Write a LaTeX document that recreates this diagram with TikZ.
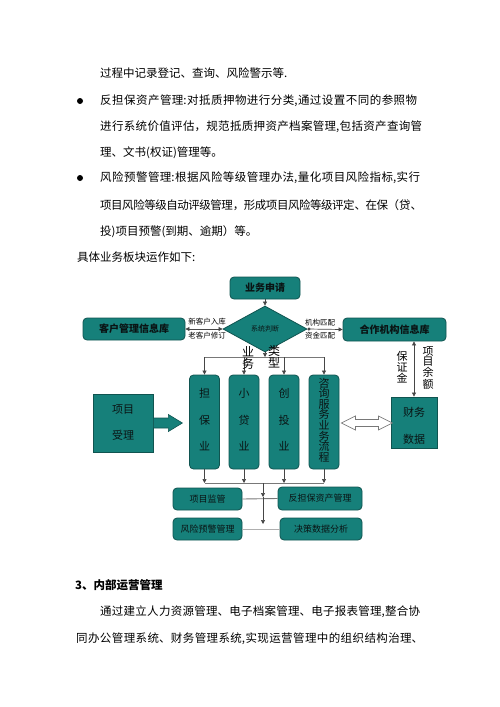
\documentclass[tikz,border=0pt]{standalone}
\usepackage{fontspec}
\setmainfont{Noto Sans CJK SC}
\newfontfamily\boxfont[Color=0A1414]{Noto Sans CJK SC}
\usetikzlibrary{shapes.geometric,arrows.meta,calc}
\XeTeXlinebreaklocale "zh"
\XeTeXlinebreakskip=0pt plus 4pt minus 0.5pt
\definecolor{tealbox}{RGB}{22,128,122}
\definecolor{tealedge}{RGB}{16,84,80}
\definecolor{lineg}{RGB}{70,70,70}
\definecolor{midg}{RGB}{120,120,120}
\definecolor{lightg}{RGB}{175,175,175}
\newcommand{\jline}[2]{\parbox{#1pt}{\parindent=0pt\parfillskip=0pt\leftskip=0pt\rightskip=0pt\relax #2}}
\begin{document}
\begin{tikzpicture}[x=1pt,y=-1pt,
  txt/.style={anchor=west,inner sep=0pt,font=\fontsize{11.5}{11.5}\selectfont},
  bul/.style={circle,fill=black,inner sep=0pt,minimum size=6pt},
  tealshape/.style={draw=tealedge,fill=tealbox,line width=0.8pt,inner sep=0pt},
  rbox/.style={tealshape,rounded corners=4pt},
  sbox/.style={tealshape},
  tbox/.style={tealshape,rounded corners=4pt,minimum width=30pt,minimum height=94pt},
  dia/.style={tealshape,diamond,minimum width=84pt,minimum height=46pt},
  intxt/.style={inner sep=0pt,align=center},
  btxt/.style={intxt,font=\boxfont\fontsize{10}{10}\selectfont\bfseries},
  ctxt/.style={intxt,font=\boxfont\fontsize{11}{26.5}\selectfont},
  stxt/.style={intxt,font=\boxfont\fontsize{9}{9}\selectfont},
  lab/.style={inner sep=0pt,font=\fontsize{7.5}{7.5}\selectfont},
  vlab/.style={inner sep=0pt,align=center},
  arr/.style={draw=lineg,line width=0.7pt,-{Triangle[length=4pt,width=4pt]}},
  darr/.style={draw=lineg,line width=0.7pt,{Triangle[length=4pt,width=4pt]}-{Triangle[length=4pt,width=4pt]}},
  dotarr/.style={draw=lineg,line width=0.7pt,{Circle[length=3pt]}-{Triangle[length=4pt,width=4pt]}},
  bus/.style={draw=midg,line width=0.8pt},
  gline/.style={draw=midg,line width=0.9pt},
  lgline/.style={draw=lightg,line width=0.9pt},
  fatar/.style={draw=tealedge,fill=tealbox,line width=0.6pt},
  hollowar/.style={draw=midg,fill=white,line width=0.7pt}
]
\useasboundingbox (0,0) rectangle (500,707);

% body text
\node[txt] (t1) at (100,73) {过程中记录登记、查询、风险警示等.};
\node[bul] (d1) at (80,101) {};
\node[txt] (t2) at (100,101) {\jline{317}{反担保资产管理:对抵质押物进行分类,通过设置不同的参照物}};
\node[txt] (t3) at (100,127) {\jline{322}{进行系统价值评估，规范抵质押资产档案管理,包括资产查询管}};
\node[txt] (t4) at (100,153) {理、文书(权证)管理等。};
\node[bul] (d2) at (80,178) {};
\node[txt] (t5) at (100,178) {\jline{320}{风险预警管理:根据风险等级管理办法,量化项目风险指标,实行}};
\node[txt] (t6) at (100,205) {\jline{322}{项目风险等级自动评级管理，形成项目风险等级评定、在保（贷、}};
\node[txt] (t7) at (100,232) {投)项目预警(到期、逾期）等。};
\node[txt] (t8) at (77,257) {具体业务板块运作如下:};

% top part of diagram
\node[rbox,minimum width=70pt,minimum height=22pt] (sq) at (265,288) {};
\node[btxt] (sqt) at (sq) {业务申请};
\node[dia] (dm) at (265,329) {};
\node[intxt,font=\boxfont\fontsize{7}{7}\selectfont] (dmt) at (dm) {系统判断};
\node[rbox,minimum width=102pt,minimum height=22pt] (kh) at (134,329) {};
\node[btxt] (kht) at (kh) {客户管理信息库};
\node[rbox,minimum width=103pt,minimum height=23pt] (hz) at (394.5,329.5) {};
\node[btxt] (hzt) at (hz) {合作机构信息库};
\draw[arr] (sq.south) -- (dm.north);
\draw[darr] (kh.east) -- (dm.west);
\node[lab] (l1) at (207,322) {新客户入库};
\node[lab] (l2) at (207,336) {老客户修订};
\draw[dotarr] (dm.east) -- (hz.west);
\node[lab] (l3) at (320,323) {机构匹配};
\node[lab] (l4) at (320,336) {资金匹配};

% four business columns
\node[tbox] (db) at (204.5,422) {};
\node[tbox] (xd) at (244,422) {};
\node[tbox] (ct) at (284,422) {};
\node[tbox] (zx) at (324,422) {};
\node[ctxt] (dbt) at ($(db)+(0,-2)$) {担\\保\\业};
\node[ctxt] (xdt) at ($(xd)+(0,-2)$) {小\\贷\\业};
\node[ctxt] (ctt) at ($(ct)+(0,-2)$) {创\\投\\业};
\node[ctxt,font=\boxfont\fontsize{11}{10.6}\selectfont] (zxt) at ($(zx)+(0,-2)$) {咨\\询\\服\\务\\业\\务\\流\\程};

\coordinate (busA) at (265,357);
\draw[arr] (dm.south) -- (busA);
\draw[bus] (db.north |- busA) -- (zx.north |- busA);
\draw[arr] (db.north |- busA) -- (db.north);
\draw[arr] (xd.north |- busA) -- (xd.north);
\draw[arr] (ct.north |- busA) -- (ct.north);
\draw[arr] (zx.north |- busA) -- (zx.north);
\node[vlab,font=\fontsize{12}{12}\selectfont] (ywa) at (248,358) {业\\务};
\node[vlab,font=\fontsize{12}{12}\selectfont] (ywb) at (274,357) {类\\型};

% side boxes
\node[sbox,minimum width=60pt,minimum height=58pt] (xm) at (123,423) {};
\node[intxt,font=\boxfont\fontsize{11}{26}\selectfont] (xmt) at (xm) {项目\\受理};
\node[sbox,minimum width=46pt,minimum height=51pt] (cw) at (414,422.5) {};
\node[intxt,font=\boxfont\fontsize{11}{27}\selectfont] (cwt) at ($(cw)+(0,3)$) {财务\\数据};
\draw[fatar] ($(xm.east)+(0,-5)$) -- ++(15,0) -- ++(0,-3.5) -- ++(14,8.5) -- ++(-14,8.5) -- ++(0,-3.5) -- ++(-15,0) -- cycle;
\draw[hollowar] ($(zx.east)+(2,1)$) -- ++(14,-7) -- ++(0,3.5) -- ++(23,0) -- ++(0,-3.5) -- ++(14,7) -- ++(-14,7) -- ++(0,-3.5) -- ++(-23,0) -- ++(0,3.5) -- cycle;
\draw[darr] (hz.south -| cw.north) -- (cw.north);
\node[vlab,font=\fontsize{11}{11}\selectfont] (bzj) at (402,367) {保\\证\\金};
\node[vlab,font=\fontsize{11}{10}\selectfont] (xmye) at (428,368) {项\\目\\余\\额};

% bottom part
\coordinate (busB) at (263,483);
\draw[arr] (db.south) -- (db.south |- busB);
\draw[arr] (xd.south) -- (xd.south |- busB);
\draw[arr] (ct.south) -- (ct.south |- busB);
\draw[arr] (zx.south) -- (zx.south |- busB);
\draw[bus] (db.south |- busB) -- (zx.south |- busB);
\node[rbox,minimum width=69pt,minimum height=22pt] (jg) at (207.5,499) {};
\node[rbox,minimum width=84pt,minimum height=23pt] (fd) at (320,498.5) {};
\node[rbox,minimum width=69pt,minimum height=22pt] (fx) at (207.5,529) {};
\node[rbox,minimum width=82pt,minimum height=22pt] (jc) at (321,529) {};
\node[stxt] (jgt) at (jg) {项目监管};
\node[stxt] (fdt) at (fd) {反担保资产管理};
\node[stxt] (fxt) at (fx) {风险预警管理};
\node[stxt] (jct) at (jc) {决策数据分析};
\draw[gline] (jg.east) -- (fd.west);
\draw[lgline] (fx.east) -- (jc.west);
\coordinate (m1) at (263,497);
\coordinate (m2) at (263,524);
\draw[arr] (busB) -- (m1);
\draw[arr] (m1) -- (m2);

% section 3
\node[txt,font=\fontsize{11.5}{11.5}\selectfont\bfseries] (h3) at (75,585) {3、内部运营管理};
\node[txt] (p1) at (100,612) {\jline{320}{通过建立人力资源管理、电子档案管理、电子报表管理,整合协}};
\node[txt] (p2) at (76,639) {\jline{347}{同办公管理系统、财务管理系统,实现运营管理中的组织结构治理、}};
\end{tikzpicture}
\end{document}
